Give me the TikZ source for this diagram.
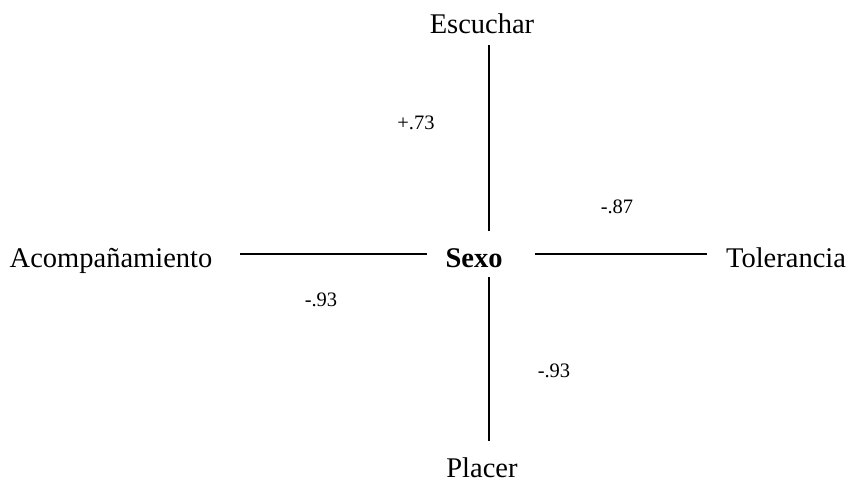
\documentclass[tikz,border=0pt]{standalone}
\usepackage{fontspec}
\setmainfont{Liberation Serif}
\begin{document}
\begin{tikzpicture}[x=1pt,y=-1pt,
  lbl/.style={anchor=base,inner sep=0pt,font=\fontsize{28.5}{31}\selectfont},
  num/.style={anchor=base,inner sep=0pt,font=\fontsize{20.5}{22}\selectfont},
  conn/.style={line width=2pt}]
\useasboundingbox (0,0) rectangle (848,482);
\node[lbl] (esc) at (482,33) {Escuchar};
\node[lbl,font=\fontsize{28.5}{31}\selectfont\bfseries] (sexo) at (474,267) {Sexo};
\node[lbl] (acomp) at (111,267) {Acompañamiento};
\node[lbl] (tol) at (786,267) {Tolerancia};
\node[lbl] (plac) at (482,477) {Placer};
\node[num] (n1) at (416,129) {+.73};
\node[num] (n2) at (617,213) {-.87};
\node[num] (n3) at (321,306) {-.93};
\node[num] (n4) at (554,377) {-.93};
\coordinate (t1) at (489,45);
\coordinate (t2) at (489,231);
\coordinate (b1) at (489,277);
\coordinate (b2) at (489,441);
\coordinate (l1) at (240,254);
\coordinate (l2) at (427,254);
\coordinate (r1) at (535,254);
\coordinate (r2) at (707,254);
\draw[conn] (t1) -- (t2);
\draw[conn] (b1) -- (b2);
\draw[conn] (l1) -- (l2);
\draw[conn] (r1) -- (r2);
\end{tikzpicture}
\end{document}
